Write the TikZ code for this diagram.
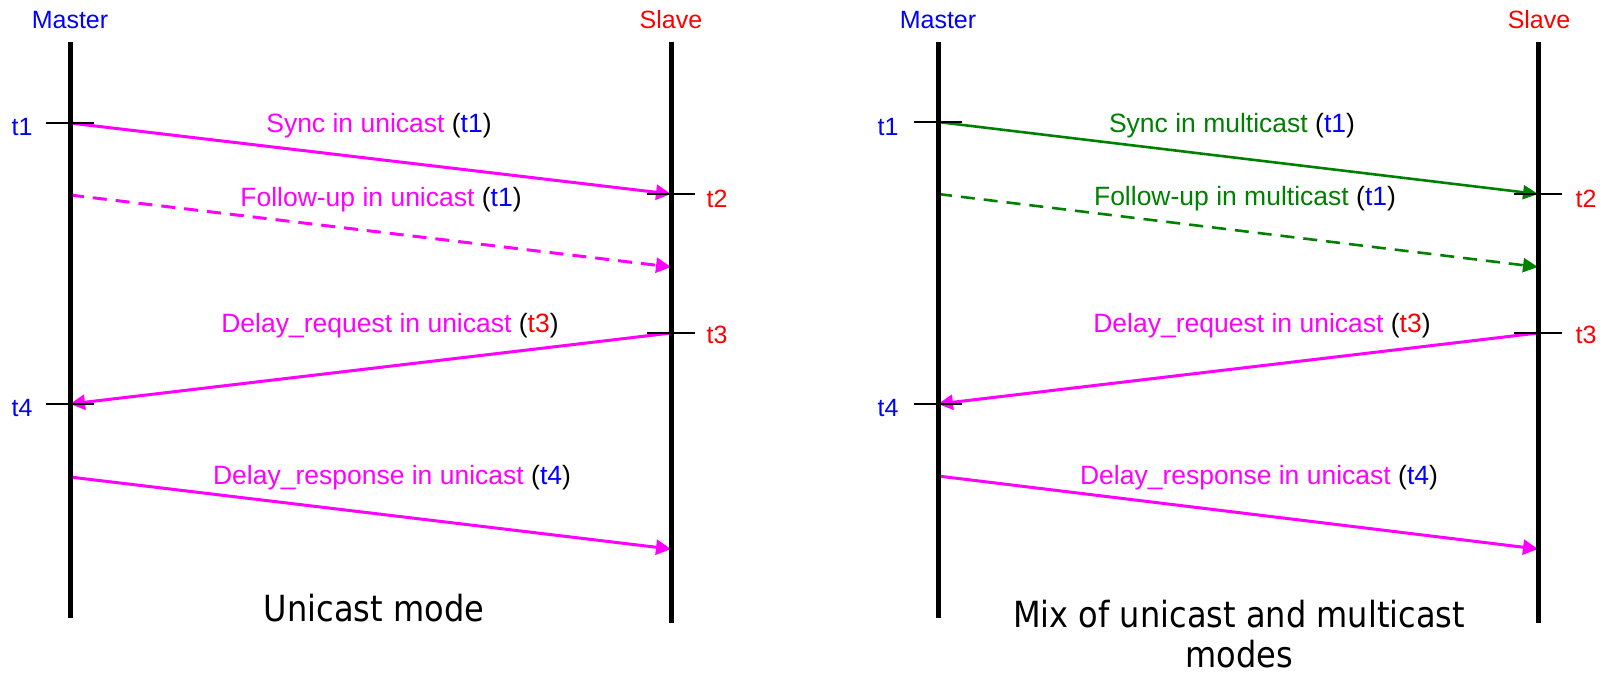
\documentclass[tikz,border=0pt]{standalone}
\usepackage{fontspec}
\setmainfont{Liberation Sans}
\newfontfamily\modefont[FakeStretch=0.89]{DejaVu Sans}
\usetikzlibrary{arrows.meta}
\definecolor{mag}{RGB}{255,0,255}
\definecolor{blu}{RGB}{0,0,255}
\definecolor{rd}{RGB}{255,0,0}
\definecolor{grn}{RGB}{0,128,0}
\begin{document}
\begin{tikzpicture}[x=1pt,y=-1pt,
  life/.style={line width=5pt,black},
  tickmark/.style={line width=2pt,black},
  msg/.style={line width=3pt,-{Triangle[length=15pt,width=15pt]}},
  gmsg/.style={line width=2.6pt,-{Triangle[length=15pt,width=14pt]}},
  dsh/.style={dash pattern=on 14pt off 9pt},
  lbl/.style={anchor=base,inner sep=0pt,font=\fontsize{26.5}{30}\selectfont},
  hdr/.style={anchor=base,inner sep=0pt,font=\fontsize{25}{30}\selectfont},
  title/.style={anchor=base,inner sep=0pt,font=\modefont\fontsize{36}{43}\selectfont}]
\useasboundingbox (0,0) rectangle (1608,675);

% ---------- left diagram coordinates ----------
\coordinate (LMtop) at (70,42);   \coordinate (LMbot) at (70,618);
\coordinate (LStop) at (671,42);  \coordinate (LSbot) at (671,623);
\coordinate (Lm1) at (70,123);  \coordinate (Ls2) at (671,194);
\coordinate (LmF) at (70,195);  \coordinate (LsF) at (671,267);
\coordinate (Ls3) at (671,333); \coordinate (Lm4) at (70,404);
\coordinate (LmR) at (70,477);  \coordinate (LsR) at (671,549);
\coordinate (Lt1a) at (46,123);  \coordinate (Lt1b) at (94,123);
\coordinate (Lt2a) at (647,194); \coordinate (Lt2b) at (695,194);
\coordinate (Lt3a) at (647,333); \coordinate (Lt3b) at (695,333);
\coordinate (Lt4a) at (46,404);  \coordinate (Lt4b) at (94,404);

% ---------- right diagram coordinates ----------
\coordinate (RMtop) at (938,42);   \coordinate (RMbot) at (938,618);
\coordinate (RStop) at (1538,42);  \coordinate (RSbot) at (1538,623);
\coordinate (Rm1) at (938,122);  \coordinate (Rs2) at (1538,194);
\coordinate (RmF) at (938,194);  \coordinate (RsF) at (1538,267);
\coordinate (Rs3) at (1538,333); \coordinate (Rm4) at (938,404);
\coordinate (RmR) at (938,476);  \coordinate (RsR) at (1538,549);
\coordinate (Rt1a) at (914,122);  \coordinate (Rt1b) at (962,122);
\coordinate (Rt2a) at (1514,194); \coordinate (Rt2b) at (1562,194);
\coordinate (Rt3a) at (1514,333); \coordinate (Rt3b) at (1562,333);
\coordinate (Rt4a) at (914,404);  \coordinate (Rt4b) at (962,404);

% ---------- messages ----------
\draw[msg,mag] (Lm1) -- (Ls2);
\draw[msg,mag,dsh] (LmF) -- (LsF);
\draw[msg,mag] (Ls3) -- (Lm4);
\draw[msg,mag] (LmR) -- (LsR);

\draw[gmsg,grn] (Rm1) -- (Rs2);
\draw[gmsg,grn,dsh] (RmF) -- (RsF);
\draw[msg,mag] (Rs3) -- (Rm4);
\draw[msg,mag] (RmR) -- (RsR);

% ---------- lifelines ----------
\draw[life] (LMtop) -- (LMbot);
\draw[life] (LStop) -- (LSbot);
\draw[life] (RMtop) -- (RMbot);
\draw[life] (RStop) -- (RSbot);

% ---------- ticks ----------
\draw[tickmark] (Lt1a) -- (Lt1b);
\draw[tickmark] (Lt2a) -- (Lt2b);
\draw[tickmark] (Lt3a) -- (Lt3b);
\draw[tickmark] (Lt4a) -- (Lt4b);
\draw[tickmark] (Rt1a) -- (Rt1b);
\draw[tickmark] (Rt2a) -- (Rt2b);
\draw[tickmark] (Rt3a) -- (Rt3b);
\draw[tickmark] (Rt4a) -- (Rt4b);

% ---------- headers and time labels ----------
\node[hdr,text=blu] (LMaster) at (70,28) {Master};
\node[hdr,text=rd]  (LSlave)  at (671,28) {Slave};
\node[hdr,text=blu] (LT1) at (22,135) {t1};
\node[hdr,text=blu] (LT4) at (22,416) {t4};
\node[hdr,text=rd]  (LT2) at (717,207) {t2};
\node[hdr,text=rd]  (LT3) at (717,343) {t3};

\node[hdr,text=blu] (RMaster) at (938,28) {Master};
\node[hdr,text=rd]  (RSlave)  at (1539,28) {Slave};
\node[hdr,text=blu] (RT1) at (888,135) {t1};
\node[hdr,text=blu] (RT4) at (888,416) {t4};
\node[hdr,text=rd]  (RT2) at (1586,207) {t2};
\node[hdr,text=rd]  (RT3) at (1586,343) {t3};

% ---------- message labels ----------
\node[lbl] (LSync) at (379,132) {\textcolor{mag}{Sync in unicast} (\textcolor{blu}{t1})};
\node[lbl] (LFoll) at (381,206) {\textcolor{mag}{Follow-up in unicast} (\textcolor{blu}{t1})};
\node[lbl] (LReq)  at (390,332) {\textcolor{mag}{Delay\_request in unicast} (\textcolor{rd}{t3})};
\node[lbl] (LResp) at (392,484) {\textcolor{mag}{Delay\_response in unicast} (\textcolor{blu}{t4})};

\node[lbl] (RSync) at (1232,132) {\textcolor{grn}{Sync in multicast} (\textcolor{blu}{t1})};
\node[lbl] (RFoll) at (1245,205) {\textcolor{grn}{Follow-up in multicast} (\textcolor{blu}{t1})};
\node[lbl] (RReq)  at (1262,332) {\textcolor{mag}{Delay\_request in unicast} (\textcolor{rd}{t3})};
\node[lbl] (RResp) at (1259,484) {\textcolor{mag}{Delay\_response in unicast} (\textcolor{blu}{t4})};

% ---------- titles ----------
\node[title] (LTitle) at (374,621) {Unicast mode};
\node[title] (RTitle1) at (1239,627) {Mix of unicast and multicast};
\node[title] (RTitle2) at (1239,667) {modes};
\end{tikzpicture}
\end{document}
